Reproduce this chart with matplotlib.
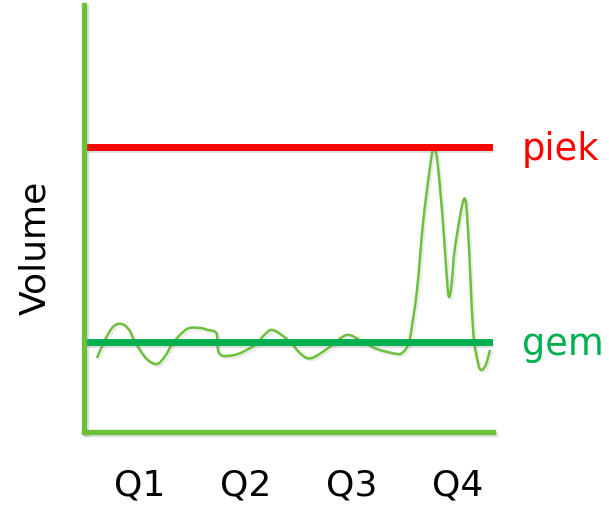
import matplotlib
matplotlib.use("Agg")
import matplotlib.pyplot as plt
import matplotlib.patheffects as pe
from matplotlib.path import Path
from matplotlib.patches import PathPatch

# quarter labels (centred at x = 0.5, 1.5, ...)
quarters = ['Q1', 'Q2', 'Q3', 'Q4']
quarter_pos = [0.5, 1.5, 2.5, 3.5]

# reference levels
gem = 100
piek = 300

# volume curve
vol_x = [0.094, 0.170, 0.250, 0.330, 0.400, 0.453, 0.560, 0.660, 0.740, 0.811,
         0.943, 1.066, 1.142, 1.200, 1.226, 1.236, 1.260, 1.302, 1.425, 1.585,
         1.680, 1.755, 1.896, 2.028, 2.123, 2.292, 2.453, 2.604, 2.736, 2.925,
         2.980, 3.019, 3.047, 3.113, 3.170, 3.236, 3.274, 3.311,
         3.358, 3.396, 3.415, 3.440, 3.472, 3.557, 3.594, 3.642,
         3.689, 3.717, 3.760, 3.802]
vol_y = [83.6, 102.1, 116.0, 118.5, 112.0, 100.0, 83.0, 77.4, 86.0, 99.0,
         113.3, 114.4, 112.3, 111.0, 107.2, 91.8, 87.0, 85.6, 87.7, 96.9,
         108.0, 112.3, 102.0, 86.7, 83.6, 95.0, 107.2, 100.0, 92.8, 87.7,
         89.5, 94.9, 104.1, 153.3, 222.1, 279.5, 301.0, 279.5,
         222.1, 163.6, 146.2, 160.0, 197.4, 246.7, 214.9, 112.3,
         78.5, 71.3, 76.0, 91.8]

axis_green = '#6cc13a'
gem_green = '#00b050'
piek_red = '#ff0000'


def smooth_path(xs, ys):
    # Catmull-Rom through the points, drawn as cubic Bezier segments
    pts = list(zip(xs, ys))
    verts = [pts[0]]
    codes = [Path.MOVETO]
    n = len(pts)
    for i in range(n - 1):
        p0 = pts[max(i - 1, 0)]
        p1 = pts[i]
        p2 = pts[i + 1]
        p3 = pts[min(i + 2, n - 1)]
        c1 = (p1[0] + (p2[0] - p0[0]) / 6, p1[1] + (p2[1] - p0[1]) / 6)
        c2 = (p2[0] - (p3[0] - p1[0]) / 6, p2[1] - (p3[1] - p1[1]) / 6)
        verts += [c1, c2, p2]
        codes += [Path.CURVE4] * 3
    return Path(verts, codes)


shadow = [pe.SimpleLineShadow(offset=(1.5, -1.5), alpha=0.25, shadow_color='gray'), pe.Normal()]

fig = plt.figure(figsize=(6.09, 5.05), dpi=100)
ax = fig.add_axes([84 / 609, 1 - 432 / 505, 409 / 609, 427 / 505])

ax.set_xlim(-0.028, 3.83)
ax.set_ylim(7.7, 445.6)

ax.axhline(piek, color=piek_red, lw=5, path_effects=shadow, solid_capstyle='butt')
ax.axhline(gem, color=gem_green, lw=5, path_effects=shadow, solid_capstyle='butt')

curve = PathPatch(smooth_path(vol_x, vol_y), facecolor='none', edgecolor=axis_green, lw=1.8,
                  path_effects=[pe.SimpleLineShadow(offset=(1.5, -1.5), alpha=0.15, shadow_color='gray'),
                                pe.Normal()])
ax.add_patch(curve)

for side in ['top', 'right']:
    ax.spines[side].set_visible(False)
for side in ['left', 'bottom']:
    ax.spines[side].set_color(axis_green)
    ax.spines[side].set_linewidth(3.8)
    ax.spines[side].set_path_effects(shadow)

ax.set_xticks(quarter_pos)
ax.set_xticklabels(quarters, fontsize=26)
ax.tick_params(axis='x', length=0, pad=26)
ax.set_yticks([])

ax.text(4.10, piek - 3, 'piek', color=piek_red, fontsize=26.5, ha='left', va='center', clip_on=False)
ax.text(4.10, gem - 3, 'gem', color=gem_green, fontsize=26.5, ha='left', va='center', clip_on=False)

fig.text(35 / 609, 1 - 248 / 505, 'Volume', fontsize=26, rotation=90, ha='center', va='center')

fig.savefig('out.png', dpi=100)
